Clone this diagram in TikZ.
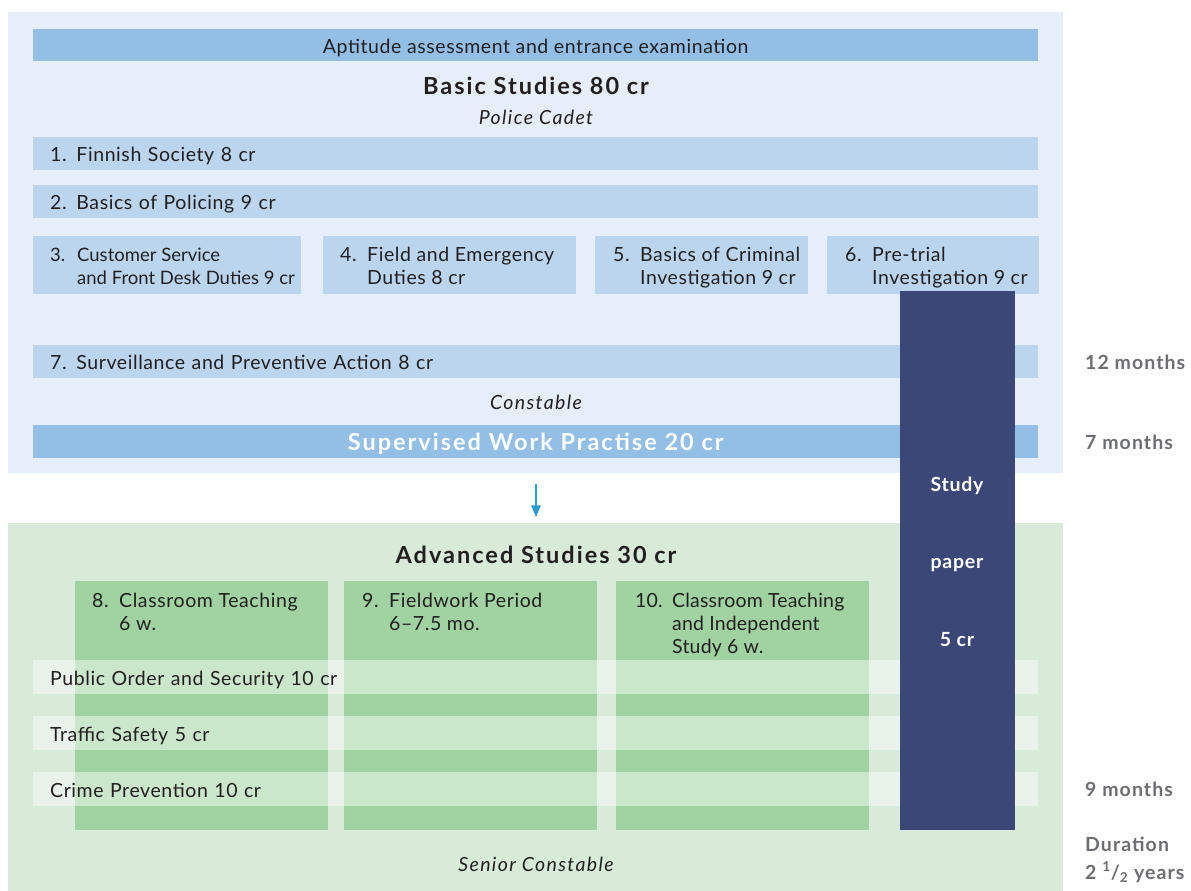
\documentclass[tikz,border=0pt]{standalone}
\usepackage{fontspec}
\setmainfont{Lato}
\usetikzlibrary{arrows,positioning}

\definecolor{paleblue}{HTML}{E6EFF9}
\definecolor{midblue}{HTML}{93BFE6}
\definecolor{lightblue}{HTML}{BBD5EE}
\definecolor{palegreen}{HTML}{D8EAD8}
\definecolor{midgreen}{HTML}{A0D2A2}
\definecolor{navy}{HTML}{3B4877}
\definecolor{ink}{HTML}{231F20}
\definecolor{greytext}{HTML}{6D6E71}
\definecolor{arrowblue}{HTML}{2E9AD8}

\newcommand{\body}{\fontsize{19.5}{23}\selectfont\addfontfeature{LetterSpace=3}}
\newcommand{\tight}{\fontsize{18.5}{23}\selectfont}
\newcommand{\hangnum}[2][27pt]{\makebox[#1][l]{#2}}
\newcommand{\hangpad}[1][27pt]{\hspace*{#1}}

\tikzset{
  gate/.style={anchor=north west, fill=midblue, minimum width=1005pt, minimum height=32pt,
    inner sep=0pt, text height=16pt, text depth=0pt, font=\body, text=ink},
  bar/.style={anchor=north west, fill=lightblue, minimum height=33pt, text width=971pt,
    inner xsep=17pt, inner ysep=0pt, text height=16pt, text depth=0pt, align=left, font=\body, text=ink},
  module/.style={anchor=north west, fill=lightblue, minimum height=58pt, inner sep=0pt},
  modtext/.style={anchor=base west, align=left, inner sep=0pt, font=\body, text=ink},
  column/.style={anchor=north west, fill=midgreen, minimum width=253pt, minimum height=249pt, inner sep=0pt},
  topic/.style={anchor=north west, fill=white, fill opacity=0.45, text opacity=1, minimum height=34pt,
    text width=971pt, inner xsep=17pt, inner ysep=0pt, text height=16pt, text depth=0pt,
    align=left, font=\body, text=ink},
  heading/.style={anchor=base, inner sep=0pt, font=\fontsize{23.5}{28}\selectfont\bfseries\addfontfeature{LetterSpace=8.5}, text=ink},
  rank/.style={anchor=base, inner sep=0pt, font=\fontsize{19.5}{23}\selectfont\itshape\addfontfeature{LetterSpace=7}, text=ink},
  paper/.style={anchor=north west, fill=navy, minimum width=115pt, minimum height=539pt, inner sep=0pt},
  papertext/.style={anchor=base, inner sep=0pt, font=\fontsize{19.5}{23}\selectfont\bfseries\addfontfeature{LetterSpace=4}, text=white},
  period/.style={anchor=base west, inner sep=0pt, font=\fontsize{19.5}{23}\selectfont\bfseries\addfontfeature{LetterSpace=5.5}, text=greytext},
  flow/.style={arrowblue, line width=1.7pt, -triangle 45}
}

\begin{document}
\begin{tikzpicture}[x=1pt, y=-1pt]
  \useasboundingbox (0,0) rectangle (1191,891);

  % basic studies
  \fill[paleblue] (8,12) rectangle (1063,473);
  \node[gate] (apt) at (33,29) {Aptitude assessment and entrance examination};
  \node[heading] (basic) at (536,95) {Basic Studies 80 cr};
  \node[rank] (cadet) at (536,124) {Police Cadet};
  \node[bar] (m1) at (33,137) {1. Finnish Society 8 cr};
  \node[bar] (m2) at (33,185) {2. Basics of Policing 9 cr};

  % modules 3-6, text placed by the baseline of its last line
  \node[module, minimum width=268pt] (m3) at (33,236) {};
  \node[module, minimum width=253pt] (m4) at (323,236) {};
  \node[module, minimum width=213pt] (m5) at (595,236) {};
  \node[module, minimum width=212pt] (m6) at (827,236) {};
  \node[modtext, font=\tight] (t3) at (50,284) {\hangnum{3.}Customer Service\\\hangpad and Front Desk Duties 9 cr};
  \node[modtext] (t4) at (340,284) {\hangnum{4.}Field and Emergency\\\hangpad Duties 8 cr};
  \node[modtext] (t5) at (613,284) {\hangnum{5.}Basics of Criminal\\\hangpad Investigation 9 cr};
  \node[modtext] (t6) at (845,284) {\hangnum{6.}Pre-trial\\\hangpad Investigation 9 cr};

  \node[bar] (m7) at (33,345) {7. Surveillance and Preventive Action 8 cr};
  \node[rank] (const) at (536,409) {Constable};
  \node[gate, minimum height=33pt, text=white, text height=17pt,
    font=\fontsize{23.5}{28}\selectfont\bfseries\addfontfeature{LetterSpace=8.5}] (work) at (33,425) {Supervised Work Practise 20 cr};

  \coordinate (down1) at (536,484);
  \coordinate (down2) at (536,517);
  \draw[flow] (down1) -- (down2);

  % advanced studies
  \fill[palegreen] (8,523) rectangle (1063,891);
  \node[heading] (adv) at (536,563) {Advanced Studies 30 cr};
  \node[column] (c8) at (75,581) {};
  \node[column] (c9) at (344,581) {};
  \node[column] (c10) at (616,581) {};
  \node[modtext] (t8) at (92,630) {\hangnum{8.}Classroom Teaching\\\hangpad 6 w.};
  \node[modtext] (t9) at (362,630) {\hangnum{9.}Fieldwork Period\\\hangpad 6--7.5 mo.};
  \node[modtext, font=\fontsize{19.5}{23}\selectfont\addfontfeature{LetterSpace=1}] (t10) at (635,653)
    {\hangnum[37pt]{10.}Classroom Teaching\\\hangpad[37pt]and Independent\\\hangpad[37pt]Study 6 w.};

  \node[topic] (pos) at (33,660) {Public Order and Security 10 cr};
  \node[topic] (traffic) at (33,716) {Traffic Safety 5 cr};
  \node[topic] (crime) at (33,772) {Crime Prevention 10 cr};
  \node[rank] (senior) at (536,871) {Senior Constable};

  % study paper
  \node[paper] (sp) at (900,291) {};
  \node[papertext] (sp1) at (957,491) {Study};
  \node[papertext] (sp2) at (957,568) {paper};
  \node[papertext] (sp3) at (957,646) {5 cr};

  % durations
  \node[period] (d12) at (1085,369) {12 months};
  \node[period] (d7) at (1085,449) {7 months};
  \node[period] (d9) at (1085,796) {9 months};
  \node[period] (dur) at (1085,851) {Duration};
  \node[period] (years) at (1085,879) {2 \textsuperscript{1}/\textsubscript{2} years};
\end{tikzpicture}
\end{document}
